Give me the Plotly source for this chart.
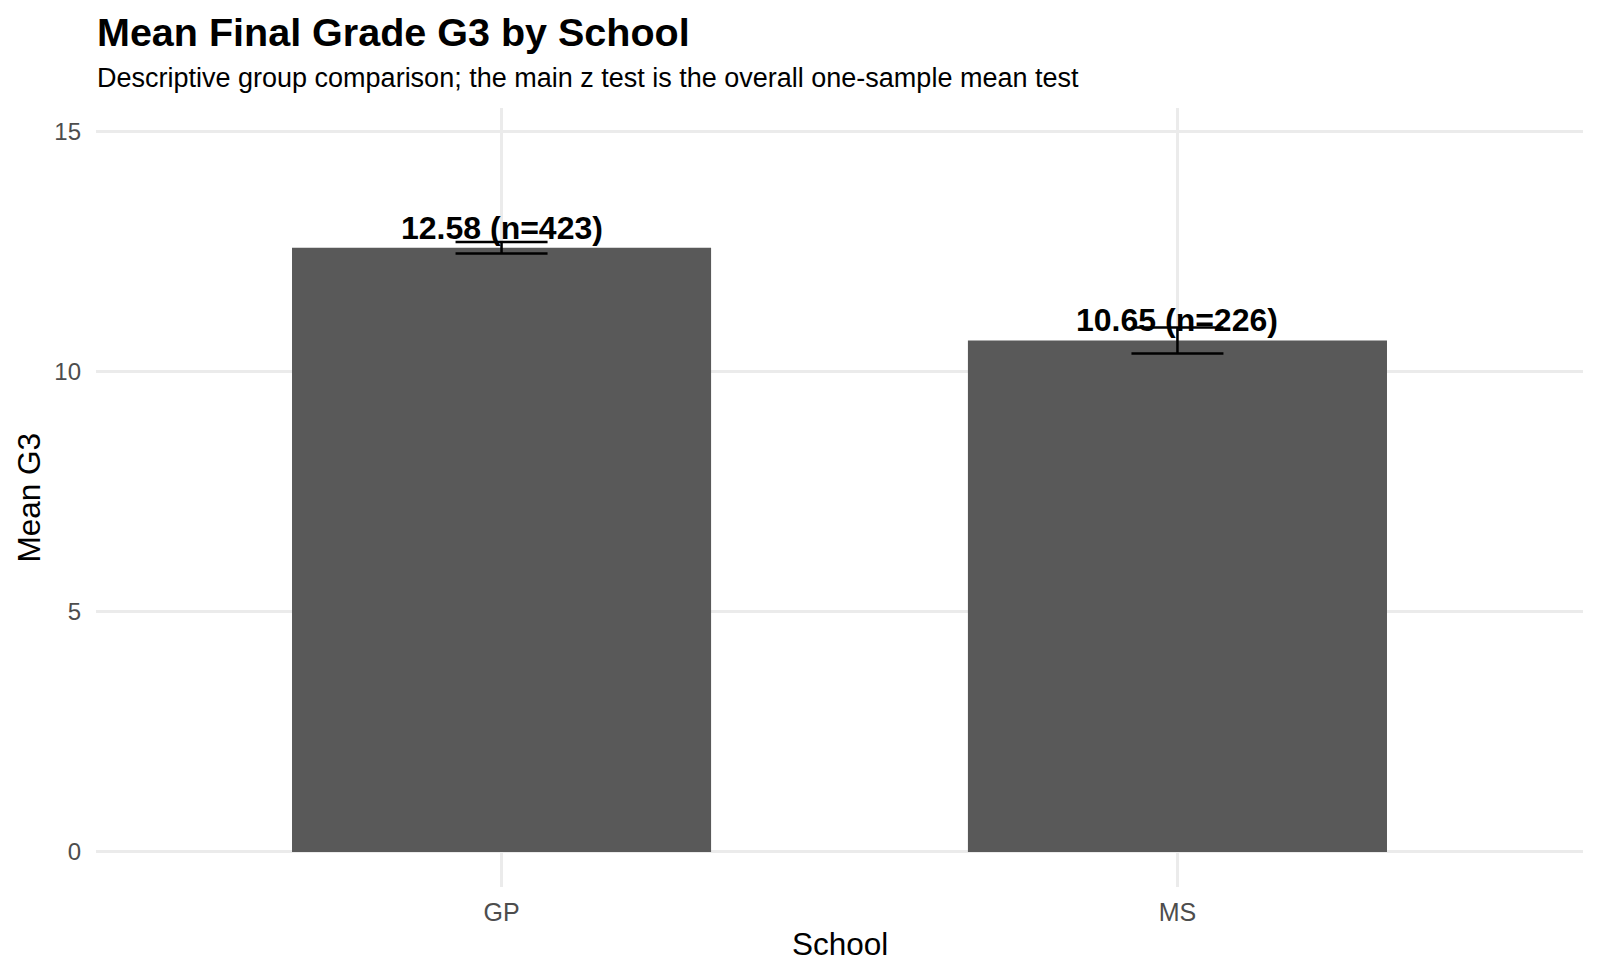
import plotly.graph_objects as go

schools = ["GP", "MS"]
mean_g3 = [12.58, 10.65]
n_students = [423, 226]
se_g3 = [0.12, 0.27]
y_ticks = [0, 5, 10, 15]

title = "Mean Final Grade G3 by School"
subtitle = "Descriptive group comparison; the main z test is the overall one-sample mean test"

W, H = 1600, 978
ml, mr, mt, mb = 96, 17, 108, 91
ph = H - mt - mb

def py(ypx):
    return (H - mb - ypx) / ph

FONT = "Liberation Sans, Arial, Helvetica, sans-serif"

fig = go.Figure()
fig.add_trace(go.Bar(
    x=schools, y=mean_g3, width=0.62,
    marker=dict(color="#595959", line=dict(width=0)),
    error_y=dict(type="data", array=se_g3, visible=True, color="black",
                 thickness=2.5, width=46),
    hoverinfo="skip",
))

annotations = []
for s, m, n in zip(schools, mean_g3, n_students):
    annotations.append(dict(
        x=s, y=m, xref="x", yref="y", text=f"<b>{m:.2f} (n={n})</b>",
        showarrow=False, yanchor="bottom", xanchor="center", yshift=0,
        font=dict(family=FONT, size=32, color="black"),
    ))

annotations += [
    dict(x=0, y=py(32), xref="paper", yref="paper", xanchor="left", yanchor="middle",
         text=f"<b>{title}</b>", showarrow=False, xshift=-1,
         font=dict(family=FONT, size=39.5, color="black")),
    dict(x=0, y=py(78), xref="paper", yref="paper", xanchor="left", yanchor="middle",
         text=subtitle, showarrow=False, xshift=-1,
         font=dict(family=FONT, size=27, color="black")),
    dict(x=0.5, y=py(944), xref="paper", yref="paper", xanchor="center", yanchor="middle",
         text="School", showarrow=False,
         font=dict(family=FONT, size=31.5, color="black")),
    dict(x=(28 - ml) / (W - ml - mr), y=0.5, xref="paper", yref="paper",
         xanchor="center", yanchor="middle", textangle=-90,
         text="Mean G3", showarrow=False,
         font=dict(family=FONT, size=31.5, color="black")),
]

fig.update_layout(
    width=W, height=H,
    margin=dict(l=ml, r=mr, t=mt, b=mb, pad=0),
    paper_bgcolor="white", plot_bgcolor="white",
    showlegend=False,
    annotations=annotations,
    font=dict(family=FONT),
    xaxis=dict(
        range=[-0.6, 1.6], showgrid=True, gridcolor="#ebebeb", gridwidth=2.5,
        zeroline=False, showline=False, ticks="",
        tickfont=dict(family=FONT, size=25, color="#4d4d4d"),
        ticklabelstandoff=8,
    ),
    yaxis=dict(
        range=[-0.73, 15.49], tickvals=y_ticks, showgrid=True, gridcolor="#ebebeb",
        gridwidth=2.5, zeroline=False, showline=False, ticks="",
        tickfont=dict(family=FONT, size=24, color="#4d4d4d"),
        ticklabelstandoff=14,
    ),
)

fig.write_html("out.html")
